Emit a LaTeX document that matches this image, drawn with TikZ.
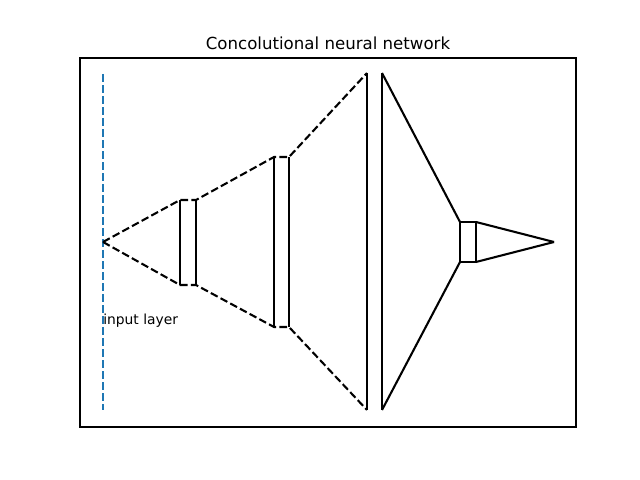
\documentclass[tikz,border=0pt]{standalone}
\usepackage{fontspec}
\setmainfont{DejaVu Sans}
\definecolor{mplblue}{HTML}{1F77B4}
\tikzset{
  mpldash/.style={line width=1.5pt, dash pattern=on 5.55pt off 2.4pt},
  mplline/.style={line width=1.5pt},
}
\begin{document}
\begin{tikzpicture}[x=0.01in, y=-0.01in]
\useasboundingbox (0,0) rectangle (640,480);
\draw[line width=0.8pt] (80,58) rectangle (576,427);
\node[font=\fontsize{12}{14}\selectfont] (title) at (328,43) {Concolutional neural network};
\coordinate (tin) at (103,242);
\coordinate (tout) at (554,242);
\coordinate (b1tl) at (180,200);
\coordinate (b1tr) at (196,200);
\coordinate (b1bl) at (180,285);
\coordinate (b1br) at (196,285);
\coordinate (b2tl) at (274,157);
\coordinate (b2tr) at (289,157);
\coordinate (b2bl) at (274,327);
\coordinate (b2br) at (289,327);
\coordinate (b3tl) at (367,73);
\coordinate (b3tr) at (382,73);
\coordinate (b3bl) at (367,410);
\coordinate (b3br) at (382,410);
\coordinate (b4tl) at (460,222);
\coordinate (b4tr) at (476,222);
\coordinate (b4bl) at (460,262);
\coordinate (b4br) at (476,262);
\coordinate (ltop) at (103,74);
\coordinate (lbot) at (103,410);
\draw[mpldash, mplblue](ltop) -- (lbot);
\node[anchor=west, inner sep=0pt, font=\fontsize{10}{12}\selectfont] (lbl) at (103,321) {input layer};
\draw[mpldash](tin) -- (b1tl) -- (b1tr) -- (b2tl) -- (b2tr) -- (b3tl);
\draw[mpldash](tin) -- (b1bl) -- (b1br) -- (b2bl) -- (b2br) -- (b3bl);
\draw[mplline](b1tl) -- (b1bl);
\draw[mplline](b1tr) -- (b1br);
\draw[mplline](b2tl) -- (b2bl);
\draw[mplline](b2tr) -- (b2br);
\draw[mplline](b3tl) -- (b3bl);
\draw[mplline](b3tr) -- (b3br);
\draw[mplline](b3tr) -- (b4tl);
\draw[mplline](b3br) -- (b4bl);
\draw[mplline](b4tl) -- (b4tr) -- (b4br) -- (b4bl) -- cycle;
\draw[mplline](b4tr) -- (tout);
\draw[mplline](b4br) -- (tout);
\end{tikzpicture}
\end{document}
